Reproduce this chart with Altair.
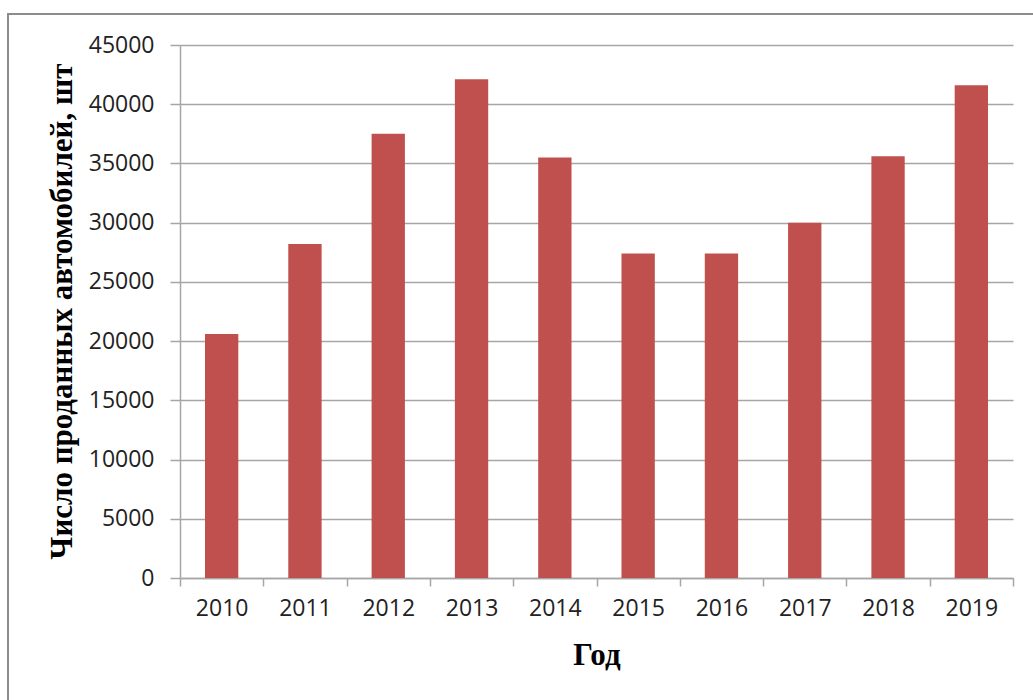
import altair as alt
import pandas as pd

years = ["2010", "2011", "2012", "2013", "2014", "2015", "2016", "2017", "2018", "2019"]
sales = [20600, 28200, 37500, 42100, 35500, 27400, 27400, 30000, 35600, 41600]
y_ticks = [0, 5000, 10000, 15000, 20000, 25000, 30000, 35000, 40000, 45000]

df = pd.DataFrame({"year": years, "sales": sales})

GRID = "#a6a6a6"
LABEL_FONT = "Open Sans"
TITLE_FONT = "Liberation Serif"

bars = alt.Chart(df).mark_bar(color="#C0504D", width=alt.RelativeBandSize(0.4)).encode(
    x=alt.X(
        "year:N",
        sort=years,
        scale=alt.Scale(paddingInner=0, paddingOuter=0),
        axis=alt.Axis(
            title="Год",
            labelAngle=0,
            tickBand="extent",
            ticks=True,
            tickSize=8,
            tickColor=GRID,
            tickWidth=1.5,
            domainColor=GRID,
            domainWidth=1.5,
            labelFont=LABEL_FONT,
            labelFontSize=23,
            labelColor="#222222",
            labelPadding=11,
            titleFont=TITLE_FONT,
            titleFontSize=31,
            titleFontWeight="bold",
            titleColor="#000000",
            titleY=77,
            titleBaseline="middle",
            grid=False,
        ),
    ),
    y=alt.Y(
        "sales:Q",
        scale=alt.Scale(domain=[0, 45000], nice=False),
        axis=alt.Axis(
            title="Число проданных автомобилей, шт",
            values=y_ticks,
            format="d",
            grid=True,
            gridColor=GRID,
            gridWidth=1.5,
            tickSize=10,
            tickColor=GRID,
            tickWidth=1.5,
            domainColor=GRID,
            domainWidth=1.5,
            labelFont=LABEL_FONT,
            labelFontSize=23,
            labelColor="#222222",
            labelPadding=16,
            titleFont=TITLE_FONT,
            titleFontSize=31,
            titleFontWeight="bold",
            titleColor="#000000",
            titleX=-118,
            titleY=266,
            titleAngle=270,
            titleAlign="center",
            titleBaseline="middle",
        ),
    ),
)

border = alt.Chart(df).mark_rect(fill=None, stroke="#8c8c8c", strokeWidth=1.5).encode(
    x=alt.value(-172),
    x2=alt.value(880),
    y=alt.value(-31),
    y2=alt.value(700),
)

chart = alt.layer(border, bars).properties(
    width=833,
    height=533,
    autosize=alt.AutoSizeParams(type="none"),
    padding={"left": 180, "top": 45, "right": 20, "bottom": 122},
    background="#ffffff",
).configure_view(stroke=None)

chart.save("out.html", embed_options={"renderer": "svg", "actions": False})
